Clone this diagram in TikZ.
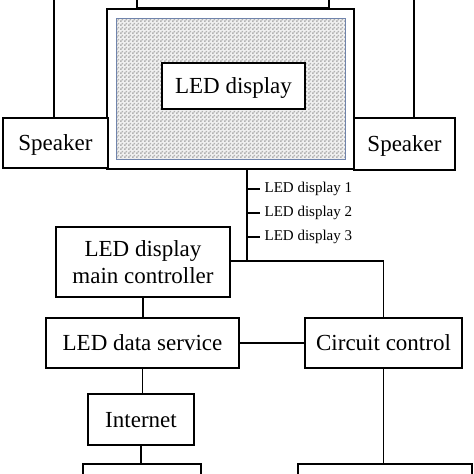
\documentclass[tikz,border=0pt]{standalone}
\usepackage{fontspec}
\setmainfont{Liberation Serif}
\usepackage{tikz}
\usetikzlibrary{patterns}
\definecolor{screenblue}{RGB}{112,132,172}
\pgfdeclarepatternformonly{finecheck}{\pgfpointorigin}{\pgfqpoint{4pt}{4pt}}{\pgfqpoint{4pt}{4pt}}{%
    \pgfpathrectangle{\pgfpointorigin}{\pgfqpoint{2pt}{2pt}}%
    \pgfpathrectangle{\pgfqpoint{2pt}{2pt}}{\pgfqpoint{2pt}{2pt}}%
    \pgfusepath{fill}}

\begin{document}
\begin{tikzpicture}[x=1pt,y=-1pt,
        box/.style={draw=black,line width=1.8pt,fill=white,inner sep=0pt,align=center,font=\fontsize{23}{27}\selectfont},
        oneline/.style={text height=15pt,text depth=0pt},
        wire/.style={black,line width=1.3pt},
        tag/.style={anchor=west,inner sep=0pt,font=\fontsize{15}{17}\selectfont}]
        % Page
        \useasboundingbox(0,0)rectangle(474,474);
        \clip(0,0)rectangle(474,474);
        % Display wall
        \node[box,minimum width=192pt,minimum height=30pt](topbox)at(233,-7.5){};
        \node[box,minimum width=247pt,minimum height=160pt](frame)at(230.5,89){};
        \fill[gray!12](116,18)rectangle(345,159);
        \node[draw=screenblue,line width=1pt,pattern=finecheck,pattern color=gray!60,minimum width=229pt,minimum height=141pt,inner sep=0pt](screen)at(230.5,88.5){};
        \node[box,oneline,minimum width=143pt,minimum height=46pt](led)at(233.5,86){LED display};
        % Speakers
        \node[box,oneline,minimum width=105pt,minimum height=50pt](spkL)at(55.5,143){Speaker};
        \node[box,oneline,minimum width=101pt,minimum height=52pt](spkR)at(404.5,144){Speaker};
        \coordinate(spkLtop)at(54,0);
        \coordinate(spkRtop)at(414,0);
        \draw[wire](spkLtop)--(spkLtop|-spkL.north);
        \draw[wire](spkRtop)--(spkRtop|-spkR.north);
        % Control boxes
        \node[box,minimum width=174pt,minimum height=70pt](main)at(143,262){LED display\\main controller};
        \node[box,oneline,minimum width=193pt,minimum height=50pt](data)at(142.5,343){LED data service};
        \node[box,oneline,minimum width=157pt,minimum height=50pt](circ)at(383.5,343){Circuit control};
        \node[box,oneline,minimum width=106pt,minimum height=51pt](inet)at(141,419.5){Internet};
        \node[box,minimum width=118pt,minimum height=32pt](botL)at(142,480){};
        \node[box,minimum width=174pt,minimum height=32pt](botR)at(385,480){};
        % Display bus
        \coordinate(bus)at(247,261);
        \draw[wire](frame.south-|bus)--(bus);
        \foreach \y/\n in {189/1,213/2,237/3}{
            \draw[wire](247,\y)--(260,\y)node[tag,xshift=4pt](lbl\n){LED display \n};
        }
        \draw[wire](main.east|-bus)--(bus)--(bus-|circ.north)--(circ.north);
        % Links
        \draw[wire](main.south)--(main.south|-data.north);
        \draw[wire](data.east)--(circ.west);
        \draw[wire](data.south)--(data.south|-inet.north);
        \draw[wire](inet.south)--(inet.south|-botL.north);
        \draw[wire](circ.south)--(circ.south|-botR.north);
\end{tikzpicture}
\end{document}
